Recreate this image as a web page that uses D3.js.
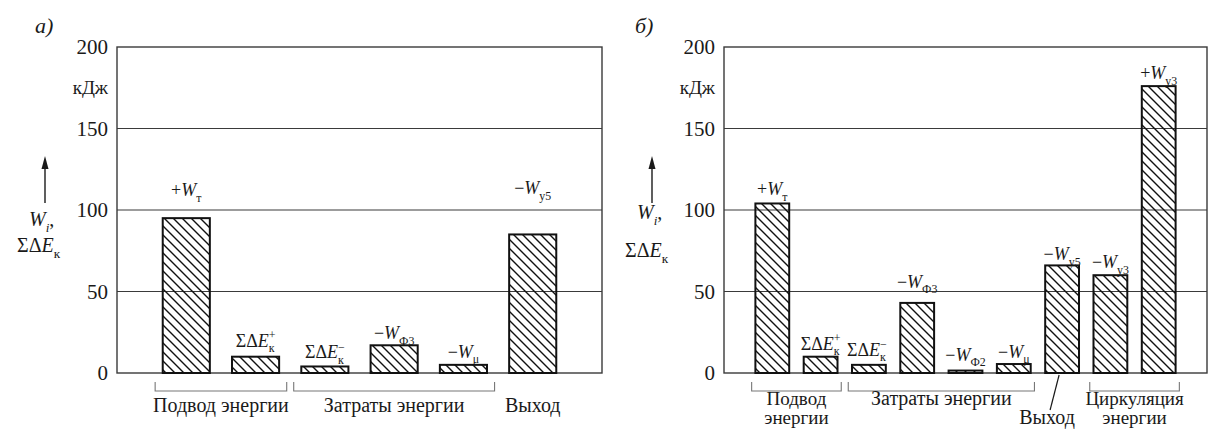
<!DOCTYPE html>
<html><head><meta charset="utf-8">
<script src="https://cdn.jsdelivr.net/npm/d3@7"></script>
<style>
body{margin:0;background:#fff}
svg{display:block}
svg text{font-family:"Liberation Serif","Tinos","Times New Roman","Times","Nimbus Roman","FreeSerif","DejaVu Serif","Noto Serif",serif;fill:#1a1a1a}
</style>
</head><body>
<svg id="c" width="1211" height="430"></svg>
<script>
// ---------- data ----------
const yTicks = [0, 50, 100, 150, 200];
const yUnit = "кДж";
const panelLetters = ["а)", "б)"];
const axisLabelLines = ["W_{i},", "ΣΔE_{к}"];

const aLabels = ["+W_{т}", "ΣΔE_{к}^{+}", "ΣΔE_{к}^{−}", "−W_{Ф3}", "−W_{μ}", "−W_{у5}"];
const aValues = [95, 10, 4, 17, 5, 85];
const aGroupNames = [["Подвод энергии"], ["Затраты энергии"], ["Выход"]];
const aGroupFrom = [0, 2, 5];
const aGroupTo = [1, 4, 5];

const bLabels = ["+W_{т}", "ΣΔE_{к}^{+}", "ΣΔE_{к}^{−}", "−W_{Ф3}", "−W_{Ф2}", "−W_{μ}", "−W_{у5}", "−W_{у3}", "+W_{у3}"];
const bValues = [104, 10, 5, 43, 1.5, 5.5, 66, 60, 176];
const bGroupNames = [["Подвод", "энергии"], ["Затраты энергии"], ["Выход"], ["Циркуляция", "энергии"]];
const bGroupFrom = [0, 2, 6, 7];
const bGroupTo = [1, 5, 6, 8];

// ---------- layout / style ----------
const svg = d3.select("#c");
const TOP = 47, BOTTOM = 373;
const lineCol = "#3a3a3a";

const defs = svg.append("defs");
const pat = defs.append("pattern").attr("id", "hatch")
  .attr("patternUnits", "userSpaceOnUse").attr("width", 9).attr("height", 9);
pat.append("path").attr("d", "M-2,-2 L11,11 M-2,7 L2,11 M7,-2 L11,2")
  .attr("stroke", "#111").attr("stroke-width", 1.4).attr("fill", "none");

function parseRich(str) {
  const re = /_\{([^}]*)\}|\^\{([^}]*)\}|([^_^]+)/g;
  const out = []; let m;
  while ((m = re.exec(str)) !== null) {
    if (m[1] !== undefined) out.push({type: "sub", text: m[1]});
    else if (m[2] !== undefined) out.push({type: "sup", text: m[2]});
    else out.push({type: "main", text: m[3]});
  }
  return out;
}
function richText(sel, str, fs) {
  let shift = 0, lastSub = null;
  parseRich(str).forEach(p => {
    if (p.type === "main") {
      p.text.split(/([A-Za-z]+)/).filter(s => s).forEach(s => {
        const t = sel.append("tspan").text(s).attr("font-size", fs).attr("dy", -shift);
        shift = 0;
        if (/[A-Za-z]/.test(s)) t.attr("font-style", "italic");
      });
      lastSub = null;
    } else if (p.type === "sub") {
      const d = fs * 0.3;
      const t = sel.append("tspan").text(p.text).attr("font-size", fs * 0.66).attr("dy", d - shift);
      if (/^[A-Za-z]+$/.test(p.text)) t.attr("font-style", "italic");
      shift = d; lastSub = t;
    } else {
      const d = -fs * 0.42;
      const dx = lastSub ? -lastSub.node().getComputedTextLength() : 0;
      sel.append("tspan").text(p.text).attr("font-size", fs * 0.66)
        .attr("dy", d - shift).attr("dx", dx);
      shift = d;
    }
  });
}

function drawPanel(cfg) {
  const n = cfg.values.length;
  const x = d3.scaleLinear().domain([0, n + 1]).range([cfg.x0, cfg.x1]);
  const y = d3.scaleLinear().domain([0, 200]).range([BOTTOM, TOP]);
  const step = x(1) - x(0);
  const bw = step * cfg.barRatio;
  const g = svg.append("g");

  g.selectAll("line.grid").data(yTicks.filter(t => t > 0 && t < 200)).join("line")
    .attr("x1", cfg.x0).attr("x2", cfg.x1).attr("y1", d => y(d)).attr("y2", d => y(d))
    .attr("stroke", lineCol).attr("stroke-width", 1.1);
  g.append("rect").attr("x", cfg.x0).attr("y", y(200)).attr("width", cfg.x1 - cfg.x0)
    .attr("height", y(0) - y(200)).attr("fill", "none").attr("stroke", lineCol).attr("stroke-width", 1.4);

  const ax = g.append("g").attr("transform", `translate(${cfg.x0},0)`)
    .call(d3.axisLeft(y).tickValues(yTicks).tickSize(0).tickPadding(9));
  ax.attr("font-family", null).attr("font-size", null);
  ax.select(".domain").remove();
  ax.selectAll("text").attr("fill", "#1a1a1a").attr("font-size", 21);
  g.append("text").attr("x", cfg.x0 - 9).attr("y", y(175)).attr("dy", "0.35em")
    .attr("text-anchor", "end").attr("font-size", 19).text(yUnit);

  g.append("text").attr("x", cfg.letterX).attr("y", 33).attr("font-size", 22)
    .attr("font-style", "italic").text(cfg.letter);

  const axX = cfg.x0 - 72;
  g.append("line").attr("x1", axX).attr("x2", axX).attr("y1", 203).attr("y2", 168)
    .attr("stroke", "#1a1a1a").attr("stroke-width", 1.4);
  g.append("path").attr("d", `M${axX},156 L${axX - 3.5},169 L${axX + 3.5},169 Z`).attr("fill", "#1a1a1a");
  axisLabelLines.forEach((s, i) => {
    const t = g.append("text").attr("x", axX + cfg.axLab[i][0]).attr("y", cfg.axLab[i][1]);
    richText(t, s, 20);
  });

  g.selectAll("rect.bar").data(cfg.values).join("rect")
    .attr("x", (d, i) => x(i + 1) - bw / 2).attr("width", bw)
    .attr("y", d => y(d)).attr("height", d => y(0) - y(d))
    .attr("fill", "url(#hatch)").attr("stroke", "#111").attr("stroke-width", 2);

  cfg.labels.forEach((s, i) => {
    const t = g.append("text").attr("x", x(i + 1) + (cfg.labelDx[i] || 0))
      .attr("y", y(cfg.values[i]) - cfg.labelLift[i]).attr("text-anchor", "middle");
    richText(t, s, 18);
  });

  cfg.groupNames.forEach((lines, k) => {
    const a = cfg.groupFrom[k], b = cfg.groupTo[k];
    const xs = x(a + 1) - step / 2 + 3.5, xe = x(b + 1) + step / 2 - 3.5;
    let cx = (xs + xe) / 2;
    let base = cfg.groupBase;
    if (a !== b) {
      g.append("path").attr("d", `M${xs},382 V391 H${xe} V382`)
        .attr("fill", "none").attr("stroke", "#777").attr("stroke-width", 1.1);
    } else {
      cx = x(a + 1);
      if (cfg.leader && cfg.leader[k]) {
        g.append("line").attr("x1", cx - 3).attr("y1", BOTTOM + 2)
          .attr("x2", cx - 12).attr("y2", 410).attr("stroke", "#1a1a1a").attr("stroke-width", 1.2);
        cx = cx - 15; base = 424;
      }
    }
    lines.forEach((ln, j) => {
      g.append("text").attr("x", cx).attr("y", base + j * 19).attr("text-anchor", "middle")
        .attr("font-size", lines.length > 1 ? 19 : 20).text(ln);
    });
  });
}

drawPanel({
  x0: 117, x1: 602, barRatio: 0.68, letter: panelLetters[0], letterX: 35,
  values: aValues, labels: aLabels,
  labelLift: [22, 10, 8, 6, 7, 40], labelDx: [0, 0, 0, 0, 0, 0],
  axLab: [[-16, 226], [-28, 252]],
  groupNames: aGroupNames, groupFrom: aGroupFrom, groupTo: aGroupTo, groupBase: 412
});
drawPanel({
  x0: 724, x1: 1207, barRatio: 0.70, letter: panelLetters[1], letterX: 635,
  values: bValues, labels: bLabels,
  labelLift: [8, 7, 9, 15, 10, 6, 5, 7, 7], labelDx: [0, 0, -2, 0, 0, 0, 0, 0, 0],
  axLab: [[-15, 219], [-27, 257]],
  groupNames: bGroupNames, groupFrom: bGroupFrom, groupTo: bGroupTo, groupBase: 405,
  leader: [false, false, true, false]
});
</script>
</body></html>
